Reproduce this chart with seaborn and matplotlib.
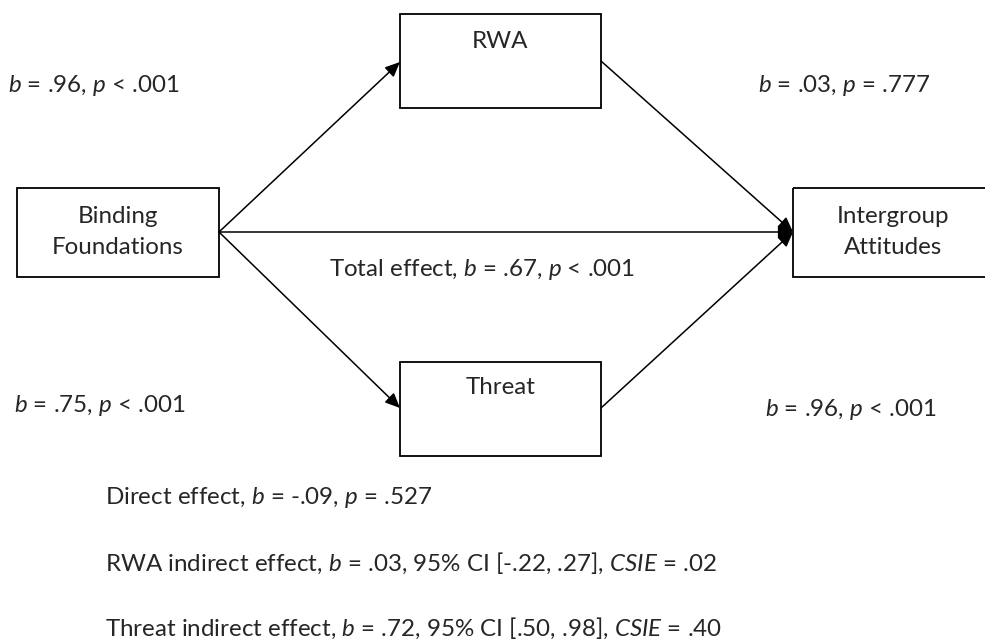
import matplotlib
matplotlib.use('Agg')
import matplotlib.pyplot as plt
import seaborn as sns
from matplotlib.patches import Rectangle

sns.set_theme(style='white')
plt.rcParams['font.family'] = ['Lato', 'DejaVu Sans']
plt.rcParams['mathtext.fontset'] = 'custom'
plt.rcParams['mathtext.rm'] = 'Lato'
plt.rcParams['mathtext.it'] = 'Lato:italic'

# nodes: label, left, top, width, height (pixel coords of the diagram)
node_names = ['bind', 'rwa', 'threat', 'inter']
node_labels = ['Binding\nFoundations', 'RWA', 'Threat', 'Intergroup\nAttitudes']
node_x = [17, 400, 400, 793]
node_y = [188, 14, 362, 188]
node_w = [202, 201, 201, 200]
node_h = [89, 94, 94, 89]
label_dy = [44, 28, 26, 44]

# paths: start point -> end point
edge_from = [(219, 232), (219, 232), (219, 232), (601, 61), (601, 408)]
edge_to = [(400, 62), (400, 408), (793, 232), (793, 232), (793, 232)]

# coefficients
path_labels = [
    r'$b$ = .96, $p$ < .001',
    r'$b$ = .03, $p$ = .777',
    r'Total effect, $b$ = .67, $p$ < .001',
    r'$b$ = .75, $p$ < .001',
    r'$b$ = .96, $p$ < .001',
]
path_label_xy = [(8, 85), (758, 85), (329, 269), (14, 405), (765, 410)]

effect_labels = [
    r'Direct effect, $b$ = -.09, $p$ = .527',
    r'RWA indirect effect, $b$ = .03, 95% CI [-.22, .27], $CSIE$ = .02',
    r'Threat indirect effect, $b$ = .72, 95% CI [.50, .98], $CSIE$ = .40',
]
effect_label_xy = [(105, 498), (105, 563), (105, 628)]

fig = plt.figure(figsize=(9.85, 6.43), dpi=100)
ax = fig.add_axes([0, 0, 1, 1])
ax.set_xlim(0, 985)
ax.set_ylim(643, 0)
ax.axis('off')

fs = 17.4

for i in range(len(node_names)):
    ax.add_patch(Rectangle((node_x[i], node_y[i]), node_w[i], node_h[i],
                           fill=False, edgecolor='black', linewidth=1.3))
    ax.text(node_x[i] + node_w[i] / 2, node_y[i] + label_dy[i], node_labels[i],
            ha='center', va='center', fontsize=fs, linespacing=1.6)

for s, e in zip(edge_from, edge_to):
    ax.annotate('', xy=e, xytext=s,
                arrowprops=dict(arrowstyle='-|>,head_length=0.9,head_width=0.4',
                                mutation_scale=10, color='black', lw=1.1,
                                shrinkA=0, shrinkB=0))

for txt, (x, y) in zip(path_labels, path_label_xy):
    ax.text(x, y, txt, ha='left', va='center', fontsize=fs)

for txt, (x, y) in zip(effect_labels, effect_label_xy):
    ax.text(x, y, txt, ha='left', va='center', fontsize=fs)

plt.savefig('out.png', dpi=100, facecolor='white')
